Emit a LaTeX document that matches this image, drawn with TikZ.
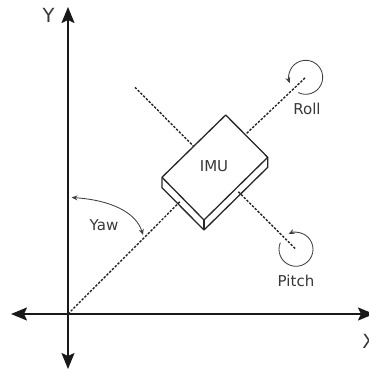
\documentclass[tikz,border=0pt]{standalone}
\usepackage{fontspec}
\setmainfont{DejaVu Sans}
\usetikzlibrary{arrows.meta}
\tikzset{
  axisline/.style={line width=1.8pt,black!90,{Stealth[length=16pt,width=13pt,inset=3pt]}-{Stealth[length=16pt,width=13pt,inset=3pt]}},
  dashline/.style={line width=1.4pt,black!85,dash pattern=on 2.4pt off 1.5pt},
  boxline/.style={line width=1.3pt,black!85,line join=round},
  turnline/.style={line width=0.85pt,black!75},
  turntip/.style={-{Stealth[length=6pt,width=5pt]}},
  lbl/.style={inner sep=0pt,text=black!78,font=\fontsize{15}{17}\selectfont},
  axlbl/.style={inner sep=0pt,text=black!78,font=\fontsize{19.5}{21}\selectfont},
}
\begin{document}
\begin{tikzpicture}[x=1pt,y=-1pt]
\useasboundingbox (0,0) rectangle (369,370);
\clip (0,0) rectangle (369,370);
\coordinate (o) at (68,314);
\coordinate (yt) at (68,7);
\coordinate (yb) at (68,369);
\coordinate (xl) at (11,314);
\coordinate (xr) at (374,314);
\draw[axisline] (yb) -- (yt);
\draw[axisline] (xl) -- (xr);
\coordinate (a) at (225.7,115);
\coordinate (b) at (267.7,157.3);
\coordinate (c) at (204,220);
\coordinate (d) at (162,177.3);
\coordinate (b2) at (267.7,167.3);
\coordinate (c2) at (204,230);
\coordinate (d2) at (162,187.7);
\coordinate (rc) at (305.7,77.3);
\coordinate (pc) at (296,249.3);
\draw[dashline] (o) -- (180,201.7);
\draw[dashline] (246.7,133.3) -- (rc);
\draw[dashline] (135,87.3) -- (193.3,146);
\draw[dashline] (238.3,191.7) -- (pc);
\draw[boxline] (a) -- (b) -- (c) -- (d) -- cycle;
\draw[boxline] (b) -- (b2) -- (c2) -- (d2) -- (d);
\draw[boxline] (c) -- (c2);
\node[lbl] (imu) at (214,166) {IMU};
\node[lbl] (roll) at (307,108.5) {Roll};
\node[lbl] (pitch) at (296,281) {Pitch};
\node[lbl] (yaw) at (104,225) {Yaw};
\node[axlbl] (ylab) at (48.5,15) {Y};
\node[axlbl] (xlab) at (369,341) {X};
\draw[turnline,turntip] (rc) ++(244:17pt) arc[start angle=244,end angle=560,radius=17pt];
\draw[turnline,{Stealth[length=6pt,width=5pt]}-{Stealth[length=6pt,width=5pt]}] (71.5,197.5) .. controls (110,200) and (136,212) .. (143,235);
\draw[turnline,turntip] (pc) ++(157:17pt) arc[start angle=157,end angle=476,radius=17pt];
\end{tikzpicture}
\end{document}
